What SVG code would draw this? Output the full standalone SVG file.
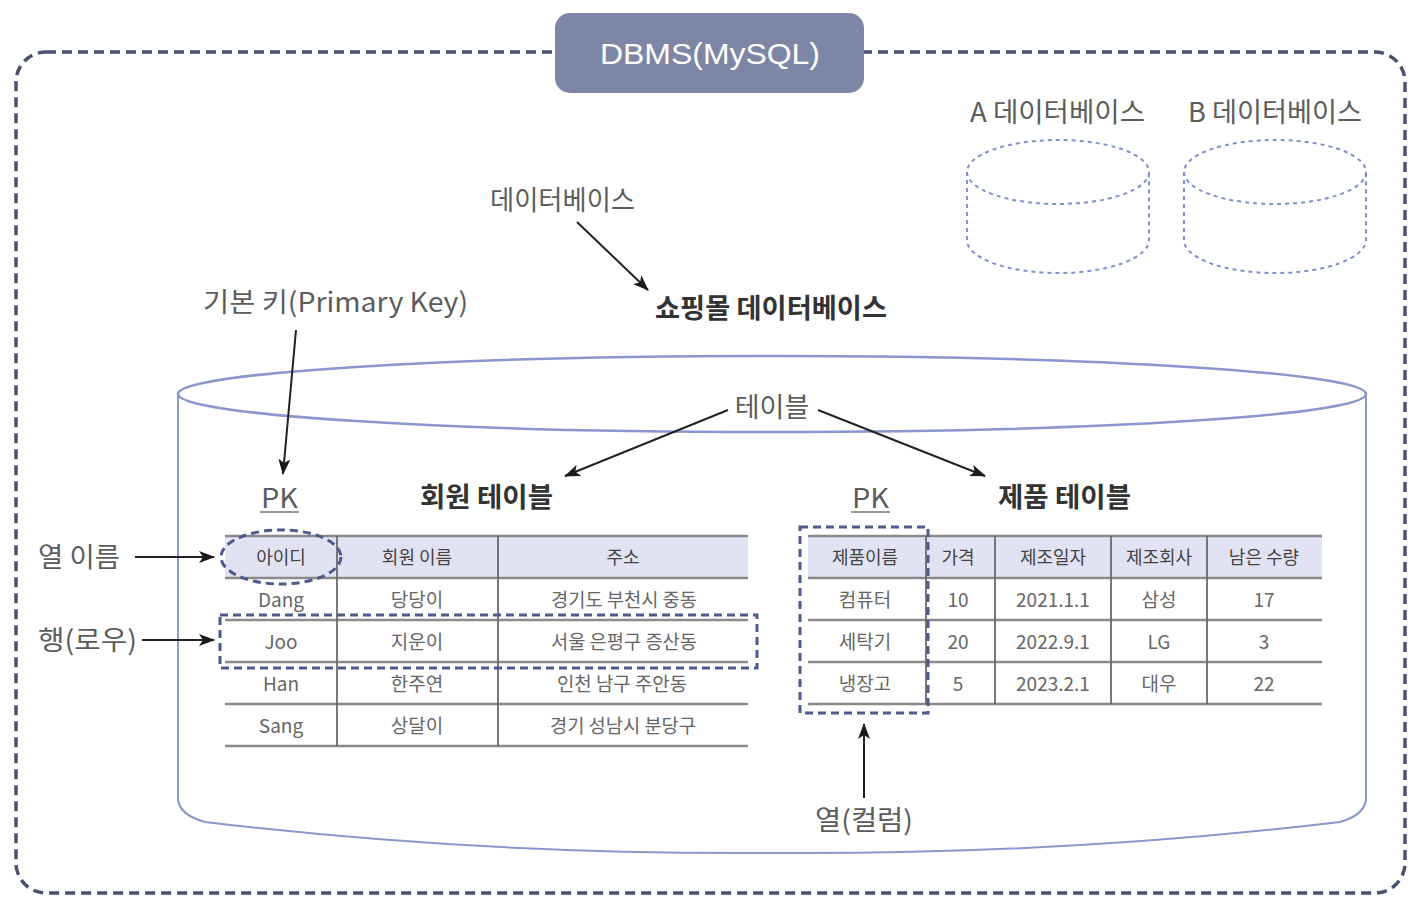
<svg xmlns="http://www.w3.org/2000/svg" width="1422" height="914" viewBox="0 0 1422 914">
<defs>
<marker id="ah" viewBox="0 0 16 12" refX="15" refY="6" markerWidth="16" markerHeight="12" markerUnits="userSpaceOnUse" orient="auto">
<path d="M0,0 L16,6 L0,12 L4,6 Z" fill="#1a1a1a"/>
</marker>
</defs>
<style>
text{font-family:"Noto Sans CJK KR","Liberation Sans",sans-serif;}
.lbl{font-size:27px;fill:#5c5c5c;}
.bold{font-size:27px;font-weight:bold;fill:#333;}
.hd{font-size:18px;fill:#444;text-anchor:middle;}
.cell{font-size:19px;fill:#666;text-anchor:middle;}
.grid{stroke:#8a8a8a;stroke-width:2.5;fill:none;}
.vgrid{stroke:#6a6a6a;stroke-width:1.8;}
.sel{fill:none;stroke:#4d5a8c;stroke-width:3;stroke-dasharray:8,5;}
.arr{stroke:#222;stroke-width:2;fill:none;marker-end:url(#ah);}
.mini{fill:none;stroke:#8090c8;stroke-width:2;stroke-dasharray:4,4;}
</style>

<g id="dbms-boundary">
<rect x="16" y="52" width="1389" height="841" rx="30" fill="none" stroke="#4a5270" stroke-width="3.5" stroke-dasharray="10,6"/>
</g>
<g id="dbms-badge">
<rect x="555" y="13" width="309" height="80" rx="15" fill="#7e86a6"/>
<text x="710" y="64" font-size="30" fill="#fff" text-anchor="middle" textLength="220" lengthAdjust="spacingAndGlyphs" style="font-family:'Liberation Sans','Noto Sans CJK KR',sans-serif">DBMS(MySQL)</text>
</g>

<g id="db-a">
<text class="lbl" x="970" y="122" textLength="175" lengthAdjust="spacingAndGlyphs">A 데이터베이스</text>
<ellipse class="mini" cx="1058" cy="172" rx="91" ry="32"/>
<path class="mini" d="M967,172 V240 A91,33 0 0 0 1149,240 V172"/>
</g>
<g id="db-b">
<text class="lbl" x="1188" y="122" textLength="174" lengthAdjust="spacingAndGlyphs">B 데이터베이스</text>
<ellipse class="mini" cx="1275" cy="172" rx="91" ry="32"/>
<path class="mini" d="M1184,172 V240 A91,33 0 0 0 1366,240 V172"/>
</g>

<g id="label-database">
<text class="lbl" x="490" y="210" font-size="26" textLength="145" lengthAdjust="spacingAndGlyphs">데이터베이스</text>
</g>
<g id="shop-db-title">
<text class="bold" x="655" y="318" textLength="232" lengthAdjust="spacingAndGlyphs">쇼핑몰 데이터베이스</text>
</g>
<g id="label-pk">
<text class="lbl" x="203" y="312" textLength="265" lengthAdjust="spacingAndGlyphs">기본 키(Primary Key)</text>
</g>

<g id="shop-db-cylinder">
<path d="M178,394 V800 Q180,815 205,822 Q480,855 772,853 Q1064,855 1340,822 Q1364,815 1366,800 V394" fill="none" stroke="#8a97cc" stroke-width="2"/>
<ellipse cx="772" cy="394" rx="594" ry="38" fill="none" stroke="#8a97cc" stroke-width="2.5"/>
</g>
<g id="label-table">
<text class="lbl" x="772" y="417" font-size="26" text-anchor="middle">테이블</text>
</g>

<g id="member-table">
<text class="lbl" x="261" y="508" textLength="37" lengthAdjust="spacingAndGlyphs">PK</text>
<line x1="260" y1="512" x2="299" y2="512" stroke="#777" stroke-width="1.5"/>
<text class="bold" x="420" y="507" textLength="133" lengthAdjust="spacingAndGlyphs">회원 테이블</text>
<rect x="225" y="536" width="523" height="42" fill="#e1e3f3"/>
<line class="grid" x1="225" y1="536" x2="748" y2="536"/>
<line class="grid" x1="225" y1="578" x2="748" y2="578"/>
<line class="grid" x1="225" y1="620" x2="748" y2="620"/>
<line class="grid" x1="225" y1="662" x2="748" y2="662"/>
<line class="grid" x1="225" y1="704" x2="748" y2="704"/>
<line class="grid" x1="225" y1="746" x2="748" y2="746"/>
<line class="vgrid" x1="337" y1="536" x2="337" y2="746"/>
<line class="vgrid" x1="498" y1="536" x2="498" y2="746"/>
<text class="hd" x="281" y="564">아이디</text>
<text class="hd" x="417" y="564">회원 이름</text>
<text class="hd" x="623" y="564">주소</text>
<text class="cell" x="281" y="607">Dang</text>
<text class="cell" x="417" y="607">당당이</text>
<text class="cell" x="624" y="607" textLength="146" lengthAdjust="spacingAndGlyphs">경기도 부천시 중동</text>
<text class="cell" x="281" y="649">Joo</text>
<text class="cell" x="417" y="649">지운이</text>
<text class="cell" x="624" y="649" textLength="146" lengthAdjust="spacingAndGlyphs">서울 은평구 증산동</text>
<text class="cell" x="281" y="691">Han</text>
<text class="cell" x="417" y="691">한주연</text>
<text class="cell" x="622" y="691" textLength="130" lengthAdjust="spacingAndGlyphs">인천 남구 주안동</text>
<text class="cell" x="281" y="733">Sang</text>
<text class="cell" x="417" y="733">상달이</text>
<text class="cell" x="623" y="733" textLength="146" lengthAdjust="spacingAndGlyphs">경기 성남시 분당구</text>
<ellipse class="sel" cx="281" cy="557" rx="60" ry="27"/>
<rect class="sel" x="220" y="615" width="537" height="53"/>
</g>

<g id="product-table">
<text class="lbl" x="852" y="508" textLength="37" lengthAdjust="spacingAndGlyphs">PK</text>
<line x1="851" y1="512" x2="890" y2="512" stroke="#777" stroke-width="1.5"/>
<text class="bold" x="998" y="507" textLength="133" lengthAdjust="spacingAndGlyphs">제품 테이블</text>
<rect x="808" y="536" width="514" height="42" fill="#e1e3f3"/>
<line class="grid" x1="808" y1="536" x2="1322" y2="536"/>
<line class="grid" x1="808" y1="578" x2="1322" y2="578"/>
<line class="grid" x1="808" y1="620" x2="1322" y2="620"/>
<line class="grid" x1="808" y1="662" x2="1322" y2="662"/>
<line class="grid" x1="808" y1="704" x2="1322" y2="704"/>
<line class="vgrid" x1="926" y1="536" x2="926" y2="704"/>
<line class="vgrid" x1="995" y1="536" x2="995" y2="704"/>
<line class="vgrid" x1="1111" y1="536" x2="1111" y2="704"/>
<line class="vgrid" x1="1207" y1="536" x2="1207" y2="704"/>
<text class="hd" x="865" y="564">제품이름</text>
<text class="hd" x="958" y="564">가격</text>
<text class="hd" x="1053" y="564">제조일자</text>
<text class="hd" x="1159" y="564">제조회사</text>
<text class="hd" x="1264" y="564">남은 수량</text>
<text class="cell" x="865" y="607">컴퓨터</text>
<text class="cell" x="958" y="607">10</text>
<text class="cell" x="1053" y="607">2021.1.1</text>
<text class="cell" x="1159" y="607">삼성</text>
<text class="cell" x="1264" y="607">17</text>
<text class="cell" x="865" y="649">세탁기</text>
<text class="cell" x="958" y="649">20</text>
<text class="cell" x="1053" y="649">2022.9.1</text>
<text class="cell" x="1159" y="649">LG</text>
<text class="cell" x="1264" y="649">3</text>
<text class="cell" x="865" y="691">냉장고</text>
<text class="cell" x="958" y="691">5</text>
<text class="cell" x="1053" y="691">2023.2.1</text>
<text class="cell" x="1159" y="691">대우</text>
<text class="cell" x="1264" y="691">22</text>
<rect class="sel" x="800" y="527" width="128" height="186"/>
</g>

<g id="label-colname">
<text class="lbl" x="38" y="567" textLength="82" lengthAdjust="spacingAndGlyphs">열 이름</text>
</g>
<g id="label-row">
<text class="lbl" x="38" y="650" textLength="99" lengthAdjust="spacingAndGlyphs">행(로우)</text>
</g>
<g id="label-column">
<text class="lbl" x="864" y="830" text-anchor="middle" textLength="98" lengthAdjust="spacingAndGlyphs">열(컬럼)</text>
</g>

<g id="connectors">
<line class="arr" x1="577" y1="222" x2="648" y2="290"/>
<line class="arr" x1="296" y1="330" x2="283" y2="474"/>
<line class="arr" x1="728" y1="410" x2="565" y2="476"/>
<line class="arr" x1="818" y1="410" x2="985" y2="476"/>
<line class="arr" x1="135" y1="557" x2="214" y2="557"/>
<line class="arr" x1="142" y1="640" x2="214" y2="640"/>
<line class="arr" x1="864" y1="798" x2="864" y2="724"/>
</g>
</svg>
